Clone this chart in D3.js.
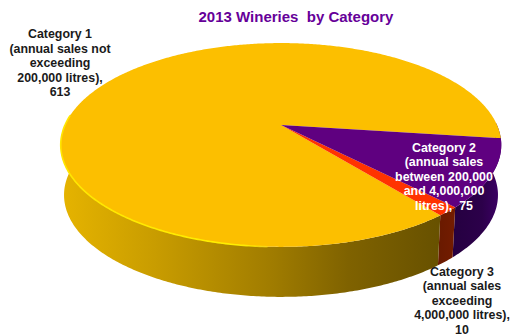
<!DOCTYPE html>
<html>
<head>
<meta charset="utf-8">
<script src="https://cdn.jsdelivr.net/npm/d3@7"></script>
<style>
  html, body { margin: 0; padding: 0; background: #fff; }
  svg { display: block; }
  text { font-family: "Liberation Sans", Arial, sans-serif; font-weight: bold; text-anchor: middle; white-space: pre; }
</style>
</head>
<body>
<svg id="chart" width="512" height="336"></svg>
<script>
// Winery counts per sales category
const categories = ["Category 2", "Category 3", "Category 1"];
const wineries = [75, 10, 613];
const topColors = ["#5f0080", "#ff3300", "#fcbf00"];
const chartTitle = "2013 Wineries  by Category";
const labelLines = [
  ["Category 2", "(annual sales", "between 200,000", "and 4,000,000", "litres),  75"],
  ["Category 3", "(annual sales", "exceeding", "4,000,000 litres),", "10"],
  ["Category 1", "(annual sales not", "exceeding", "200,000 litres),", "613"]
];
const labelColors = ["#ffffff", "#1a1a1a", "#1a1a1a"];
const labelAnchors = [[444, 151.5], [462, 275.5], [60, 38]];

const svg = d3.select("#chart");
const defs = svg.append("defs");

// Tilted disc: a unit circle seen in perspective, with the near edge enlarged
const cx = 281, cy = 125, radiusX = 216, radiusY = 98, tilt = 0.196, depth = 50;
const project = (angle, drop = 0) => {
  const ux = Math.sin(angle), uy = -Math.cos(angle);
  const w = 1 - tilt * uy;
  const shrink = drop ? 0.985 : 1;
  return [cx + shrink * radiusX * ux / w, cy + drop + radiusY * uy / w];
};
const line = d3.line();
const rim = (a0, a1, drop = 0) => {
  const n = Math.max(2, Math.ceil(Math.abs(a1 - a0) / 0.01));
  return d3.range(n + 1).map(i => project(a0 + (a1 - a0) * i / n, drop));
};

const startAngle = (90 + 7.5) * Math.PI / 180;
const slices = d3.pie().sort(null)
  .startAngle(startAngle).endAngle(startAngle + 2 * Math.PI)(wineries);

// Shading of the outer wall, darkening towards the right
const gradient = (id, x1, x2, stops) => {
  const g = defs.append("linearGradient").attr("id", id)
    .attr("gradientUnits", "userSpaceOnUse")
    .attr("x1", x1).attr("x2", x2).attr("y1", 0).attr("y2", 0);
  stops.forEach(([o, c, a]) => g.append("stop").attr("offset", o)
    .attr("stop-color", c).attr("stop-opacity", a === undefined ? 1 : a));
};
gradient("wall0", 440, 500, [[0, "#22003c"], [0.7, "#2c004a"], [1, "#3d0066"]]);
gradient("wall1", 440, 456, [[0, "#6a1a00"], [1, "#741c00"]]);
gradient("wall2", 60, 445, [[0, "#e6b400"], [0.25, "#c89c00"], [0.55, "#a07c00"], [0.75, "#7f6200"], [1, "#665000"]]);
gradient("glint", 60, 300, [[0, "#ffe600"], [0.75, "#ffee00"], [1, "#ffd800", 0]]);

// Outer wall: only the near part of the rim is visible
const wallEnd = 3 * Math.PI / 2 + 0.12;
const wallLayer = svg.append("g");
slices.forEach((s, i) => {
  const a0 = i === 0 ? Math.PI / 2 - 0.02 : s.startAngle;
  const a1 = Math.min(s.endAngle, wallEnd);
  const pts = rim(a0, a1).concat(rim(a1, a0, depth));
  wallLayer.append("path").attr("d", line(pts) + "Z")
    .attr("fill", `url(#wall${i})`);
});

// Top face of each slice
const faceLayer = svg.append("g");
slices.slice().reverse().forEach(s => {
  const pts = [[cx, cy]].concat(rim(s.startAngle, s.endAngle));
  faceLayer.append("path").attr("d", line(pts) + "Z")
    .attr("fill", topColors[s.index]);
});

// Bright lip along the front-left edge of the large slice
svg.append("path")
  .attr("d", line(rim(Math.PI + 0.05, 3 * Math.PI / 2 + 0.1)))
  .attr("fill", "none").attr("stroke", "url(#glint)").attr("stroke-width", 1.6);

// Title
svg.append("text").attr("x", 296).attr("y", 22)
  .attr("font-size", 15).attr("fill", "#660099").text(chartTitle);

// Category labels
labelLines.forEach((lines, i) => {
  const t = svg.append("text").attr("font-size", 12.4).attr("fill", labelColors[i]);
  lines.forEach((l, j) => t.append("tspan")
    .attr("x", labelAnchors[i][0])
    .attr("y", labelAnchors[i][1] + j * 14.5)
    .text(l));
});
</script>
</body>
</html>
